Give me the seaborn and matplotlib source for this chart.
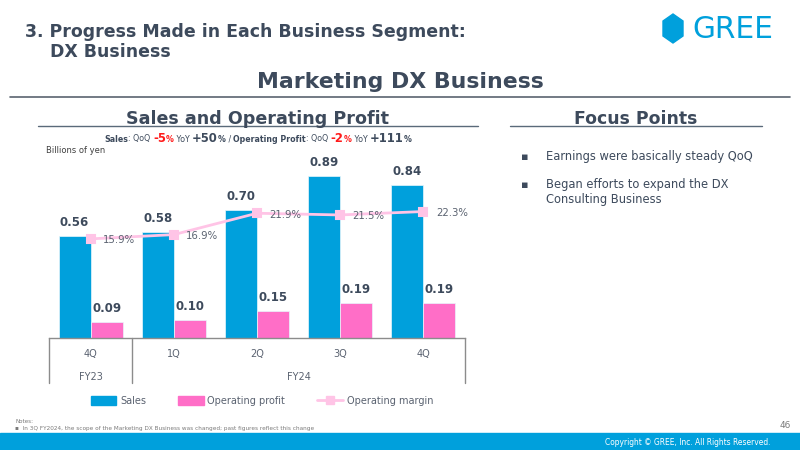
import numpy as np
import pandas as pd
import seaborn as sns
import matplotlib.pyplot as plt
from matplotlib import font_manager
from matplotlib.patches import Patch, Rectangle, Polygon
from matplotlib.lines import Line2D
from matplotlib.offsetbox import TextArea, HPacker, AnchoredOffsetbox

# --- data
periods = ["4Q FY23", "1Q FY24", "2Q FY24", "3Q FY24", "4Q FY24"]
quarter_labels = ["4Q", "1Q", "2Q", "3Q", "4Q"]
sales = [0.56, 0.58, 0.70, 0.89, 0.84]
op_profit = [0.09, 0.10, 0.15, 0.19, 0.19]
op_margin = [15.9, 16.9, 21.9, 21.5, 22.3]

DARK = "#3d4a5c"
GREY = "#5a6270"
BLUE = "#00a0dc"
PINK = "#ff6ec7"
LPINK = "#ffc4e6"

sns.set_theme(style="white")
plt.rcParams["font.family"] = ["DejaVu Sans"]

names = {f.name for f in font_manager.fontManager.ttflist}
if "Liberation Sans Narrow" in names:
    narrow = dict(family="Liberation Sans Narrow")
else:
    narrow = dict(family="DejaVu Sans", fontstretch="condensed")

fig = plt.figure(figsize=(8, 4.5), dpi=100)


def px(x, y):
    return (x / 800, 1 - y / 450)


# --- slide header
fig.text(*px(25, 37), "3. Progress Made in Each Business Segment:", fontsize=12.5,
         fontweight="bold", color=DARK)
fig.text(*px(50, 57), "DX Business", fontsize=12.5, fontweight="bold", color=DARK)
fig.add_artist(Polygon([px(673, 14), px(683, 21), px(683, 36), px(673, 43), px(663, 36), px(663, 21)],
                       closed=True, color=BLUE, transform=fig.transFigure))
fig.text(*px(692, 38.5), "GREE", fontsize=21.3, color=BLUE)
fig.text(*px(400, 88), "Marketing DX Business", fontsize=15.8, fontweight="bold",
         color=DARK, ha="center")
fig.add_artist(Line2D([10 / 800, 790 / 800], [1 - 97 / 450] * 2, color="#5a6470", lw=1.2))

# --- chart titles
fig.text(*px(258, 124), "Sales and Operating Profit", fontsize=12.6, fontweight="bold",
         color=DARK, ha="center")
fig.add_artist(Line2D([38 / 800, 478 / 800], [1 - 126 / 450] * 2, color="#5a6a7a", lw=1))
fig.text(*px(636, 124), "Focus Points", fontsize=12.4, fontweight="bold", color=DARK, ha="center")
fig.add_artist(Line2D([510 / 800, 762 / 800], [1 - 126 / 450] * 2, color="#5a6a7a", lw=1))

parts = [("Sales", 5.7, "bold", DARK), (": QoQ ", 5.7, "normal", DARK),
         ("-5", 8.4, "bold", "#ff1a1a"), ("%", 5.7, "bold", "#ff1a1a"),
         (" YoY ", 5.7, "normal", DARK), ("+50", 8.4, "bold", DARK), ("%", 5.7, "bold", DARK),
         (" / ", 5.7, "normal", DARK), ("Operating Profit", 5.7, "bold", DARK),
         (": QoQ ", 5.7, "normal", DARK), ("-2", 8.4, "bold", "#ff1a1a"), ("%", 5.7, "bold", "#ff1a1a"),
         (" YoY ", 5.7, "normal", DARK), ("+111", 8.4, "bold", DARK), ("%", 5.7, "bold", DARK)]
boxes = [TextArea(t, textprops=dict(fontsize=s, fontweight=w, color=c)) for t, s, w, c in parts]
pack = HPacker(children=boxes, align="baseline", pad=0, sep=0)
fig.add_artist(AnchoredOffsetbox(loc="center", child=pack, frameon=False, pad=0, borderpad=0,
                                 bbox_to_anchor=px(258, 138), bbox_transform=fig.transFigure))
fig.text(*px(46, 153), "Billions of yen", fontsize=6, color="#404040")

# --- bar chart
df = pd.DataFrame({
    "Period": periods * 2,
    "Value": sales + op_profit,
    "Series": ["Sales"] * 5 + ["Operating profit"] * 5,
})

ax = fig.add_axes([49 / 800, 1 - 338 / 450, 416 / 800, 188 / 450])
sns.barplot(data=df, x="Period", y="Value", hue="Series", order=periods,
            palette=[BLUE, PINK], saturation=1, width=0.77, ax=ax, legend=False,
            edgecolor="#e8f6fc", linewidth=0.5)
ax.set_ylim(0, 1.03)
ax.set_xlim(-0.5, 4.5)
for cont in ax.containers:
    ax.bar_label(cont, fmt="%.2f", padding=5, fontsize=8.5, fontweight="bold", color=DARK)
ax.set_xlabel("")
ax.set_ylabel("")
ax.set_yticks([])
ax.set_xticks([])
for side in ["top", "left", "right"]:
    ax.spines[side].set_visible(False)
ax.spines["bottom"].set_color("#8c8c8c")
ax.spines["bottom"].set_linewidth(1)

# category box below the axis
tr = ax.get_xaxis_transform()
for xv in [-0.5, 0.5, 4.5]:
    ax.add_line(Line2D([xv, xv], [0, -0.24], transform=tr, color="#8c8c8c", lw=1, clip_on=False))
for i, q in enumerate(quarter_labels):
    ax.text(i, -0.085, q, transform=tr, ha="center", va="center", fontsize=7, color=GREY)
ax.text(0, -0.205, "FY23", transform=tr, ha="center", va="center", fontsize=7, color=GREY)
ax.text(2.5, -0.205, "FY24", transform=tr, ha="center", va="center", fontsize=7, color=GREY)

# operating margin line
ax2 = ax.twinx()
sns.pointplot(x=periods, y=op_margin, ax=ax2, color=LPINK, marker="s", markersize=6,
              linewidth=2)
ax2.set_ylim(-7.3, 36.7)
ax2.set_xlim(-0.5, 4.5)
ax2.set_yticks([])
ax2.set_xticks([])
ax2.axis("off")
for i, m in enumerate(op_margin):
    ax2.annotate(f"{m:.1f}%", (i, m), xytext=(9, -1), textcoords="offset points",
                 ha="left", va="center", fontsize=7.3, color=GREY)

handles = [Patch(color=BLUE, label="Sales"), Patch(color=PINK, label="Operating profit"),
           Line2D([], [], color=LPINK, lw=2, marker="s", markersize=6, label="Operating margin")]
leg = fig.legend(handles=handles, loc="center", bbox_to_anchor=px(262, 401), ncol=3,
                 frameon=False, fontsize=7, handlelength=2.6, handleheight=1.1,
                 columnspacing=3.3, handletextpad=0.4)
for t in leg.get_texts():
    t.set_color(GREY)

# --- focus points
fig.text(*px(521, 160), "\u25aa", fontsize=8, color=DARK)
fig.text(*px(546, 160), "Earnings were basically steady QoQ", fontsize=8.3, color=DARK)
fig.text(*px(521, 188), "\u25aa", fontsize=8, color=DARK)
fig.text(*px(546, 188), "Began efforts to expand the DX", fontsize=8.3, color=DARK)
fig.text(*px(546, 203), "Consulting Business", fontsize=8.3, color=DARK)

# --- footer
fig.text(*px(15, 423), "Notes:", fontsize=4.5, color="#7a7a7a", **narrow)
fig.text(*px(15, 430), "\u25aa  In 3Q FY2024, the scope of the Marketing DX Business was changed; past figures reflect this change",
         fontsize=4.6, color="#7a7a7a", **narrow)
fig.text(*px(791, 428), "46", fontsize=6.5, color="#7a7a7a", ha="right")
fig.add_artist(Rectangle(px(0, 450), 1, 17 / 450, color=BLUE, transform=fig.transFigure))
fig.text(*px(770, 445), "Copyright \u00a9 GREE, Inc. All Rights Reserved.", fontsize=6,
         color="white", ha="right", **narrow)

fig.savefig("out.png", dpi=100)
